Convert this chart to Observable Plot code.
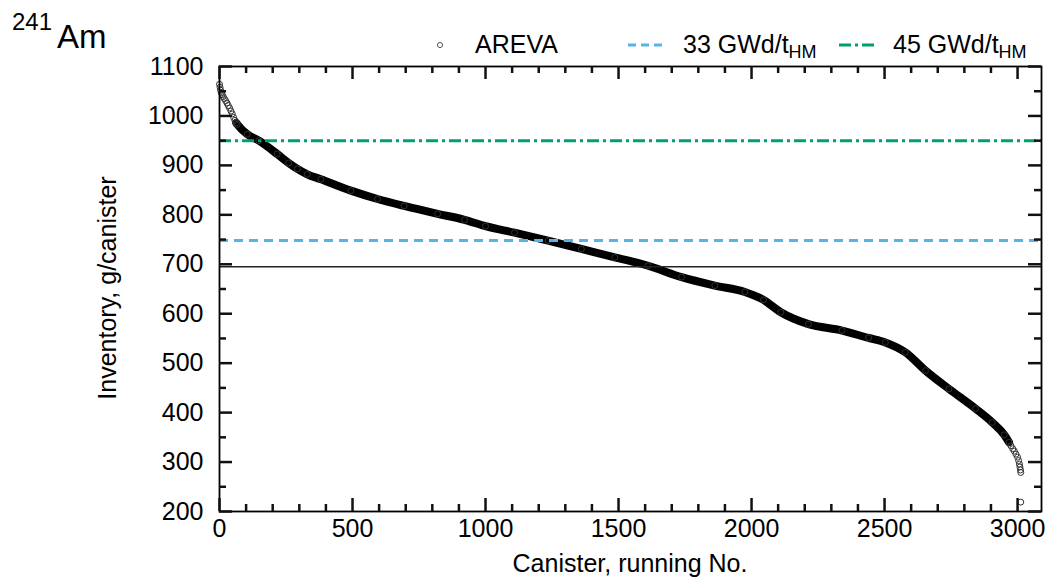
<!DOCTYPE html>
<html>
<head>
<meta charset="utf-8">
<script src="https://cdn.jsdelivr.net/npm/d3@7"></script>
<script src="https://cdn.jsdelivr.net/npm/@observablehq/plot@0.6"></script>
<style>
  html, body { margin: 0; padding: 0; background: #fff; }
  #wrap { position: relative; width: 1046px; height: 579px; font-family: "Liberation Sans", Arial, Helvetica, sans-serif; color: #000; overflow: hidden; }
  #chart { position: absolute; left: 0; top: 0; }
  #chart svg { font-family: "Liberation Sans", Arial, Helvetica, sans-serif !important; color: #000; background: #fff; }
  .abs { position: absolute; white-space: nowrap; line-height: 1; }
  sub { font-size: 0.72em; vertical-align: -0.3em; line-height: 0; }
</style>
</head>
<body>
<div id="wrap">
  <div id="chart"></div>
  <div class="abs" style="left:12px; top:10px; font-size:24px;">241</div>
  <div class="abs" style="left:57px; top:20px; font-size:33px;">Am</div>

  <svg class="abs" style="left:430px; top:35px;" width="20" height="20"><circle cx="10" cy="10" r="2.6" fill="none" stroke="#555" stroke-width="1"/></svg>
  <div class="abs" style="left:475px; top:32px; font-size:25px;">AREVA</div>
  <svg class="abs" style="left:626px; top:35px;" width="40" height="20"><line x1="2" y1="10" x2="38" y2="10" stroke="#56B4E9" stroke-width="3" stroke-dasharray="8,5"/></svg>
  <div class="abs" style="left:683px; top:32px; font-size:25px;">33 GWd/t<sub>HM</sub></div>
  <svg class="abs" style="left:837px; top:35px;" width="42" height="20"><line x1="2" y1="10" x2="40" y2="10" stroke="#009E73" stroke-width="3" stroke-dasharray="12,4,3,4"/></svg>
  <div class="abs" style="left:893px; top:32px; font-size:25px;">45 GWd/t<sub>HM</sub></div>

  <div class="abs" style="left:107px; top:288px; font-size:25px; transform: translate(-50%,-50%) rotate(-90deg);">Inventory, g/canister</div>
  <div class="abs" style="left:630px; top:551px; font-size:25px; transform: translateX(-50%);">Canister, running No.</div>
</div>
<script>
// Canister running number (sorted by inventory) and 241Am inventory, g/canister
const canister = [0, 2, 4, 7, 10, 14, 18, 23, 28, 33, 38, 43, 48, 53, 58, 63, 67,
  104, 148, 217, 260, 293, 330, 381, 494, 594, 694, 820, 921, 1000, 1109, 1235, 1360, 1486,
  1611, 1737, 1862, 1975, 2045, 2110, 2214, 2340, 2440, 2503, 2578, 2654, 2742,
  2842, 2905, 2950, 2968, 2975, 2982, 2988, 2994, 3000, 3004, 3007, 3009, 3011, 3012, 3012];
const inventory = [1064, 1058, 1052, 1047, 1043, 1039, 1035, 1031, 1026, 1021, 1016, 1010, 1004, 997, 991, 986, 983,
  963, 950, 923, 905, 893, 882, 872, 849, 832, 818, 802, 790, 777, 764, 748, 731, 714,
  697, 674, 657, 644, 628, 603, 579, 566, 551, 542, 522, 485, 448,
  408, 380, 355, 340, 333, 327, 322, 316, 310, 303, 296, 290, 284, 279, 219];

// Reference levels
const meanLevel = [695];
const level33 = [748];
const level45 = [950];

// Axis ticks
const xDomain = [0, 3090];
const yDomain = [200, 1100];
const xMajor = [0, 500, 1000, 1500, 2000, 2500, 3000];
const xMinor = [100, 200, 300, 400, 600, 700, 800, 900, 1100, 1200, 1300, 1400, 1600, 1700, 1800, 1900,
  2100, 2200, 2300, 2400, 2600, 2700, 2800, 2900];
const yMajor = [200, 300, 400, 500, 600, 700, 800, 900, 1000, 1100];
const yMinor = [250, 350, 450, 550, 650, 750, 850, 950, 1050];

const points = canister.map((c, i) => ({x: c, y: inventory[i]}));
const core = points.filter(d => d.x >= 60 && d.x <= 2970);

const W = 1046, H = 579, mL = 219, mR = 5, mT = 66, mB = 68;
const innerW = W - mL - mR, innerH = H - mT - mB;
const maj = 13, mnr = 7;
const tk = {stroke: "#111", strokeWidth: 2.5};

const chart = Plot.plot({
  width: W, height: H,
  marginLeft: mL, marginRight: mR, marginTop: mT, marginBottom: mB,
  x: {domain: xDomain},
  y: {domain: yDomain},
  marks: [
    Plot.line(core, {x: "x", y: "y", stroke: "#000", strokeWidth: 8, strokeLinejoin: "round", strokeLinecap: "round", curve: "monotone-x"}),
    Plot.dot(points, {x: "x", y: "y", r: 3, stroke: "#333", strokeWidth: 1, fill: "none"}),
    Plot.ruleY(meanLevel, {stroke: "#222", strokeWidth: 1.3}),
    Plot.ruleY(level33, {stroke: "#56B4E9", strokeWidth: 3, strokeDasharray: "9,6"}),
    Plot.ruleY(level45, {stroke: "#009E73", strokeWidth: 3, strokeDasharray: "12,4,3,4"}),
    Plot.frame({stroke: "#000", strokeWidth: 1.8}),
    // inward ticks on all four sides
    Plot.ruleX(xMajor, {x: d => d, insetTop: innerH - maj, ...tk}),
    Plot.ruleX(xMinor, {x: d => d, insetTop: innerH - mnr, ...tk}),
    Plot.ruleX(xMajor, {x: d => d, insetBottom: innerH - maj, ...tk}),
    Plot.ruleX(xMinor, {x: d => d, insetBottom: innerH - mnr, ...tk}),
    Plot.ruleY(yMajor, {y: d => d, insetRight: innerW - maj, ...tk}),
    Plot.ruleY(yMinor, {y: d => d, insetRight: innerW - mnr, ...tk}),
    Plot.ruleY(yMajor, {y: d => d, insetLeft: innerW - maj, ...tk}),
    Plot.ruleY(yMinor, {y: d => d, insetLeft: innerW - mnr, ...tk}),
    Plot.axisX(xMajor, {anchor: "bottom", tickSize: 0, tickPadding: 8, label: null, fontSize: 25, tickFormat: d => String(d)}),
    Plot.axisY(yMajor, {anchor: "left", tickSize: 0, tickPadding: 16, label: null, fontSize: 25, tickFormat: d => String(d)})
  ]
});
document.getElementById("chart").appendChild(chart);
</script>
</body>
</html>
